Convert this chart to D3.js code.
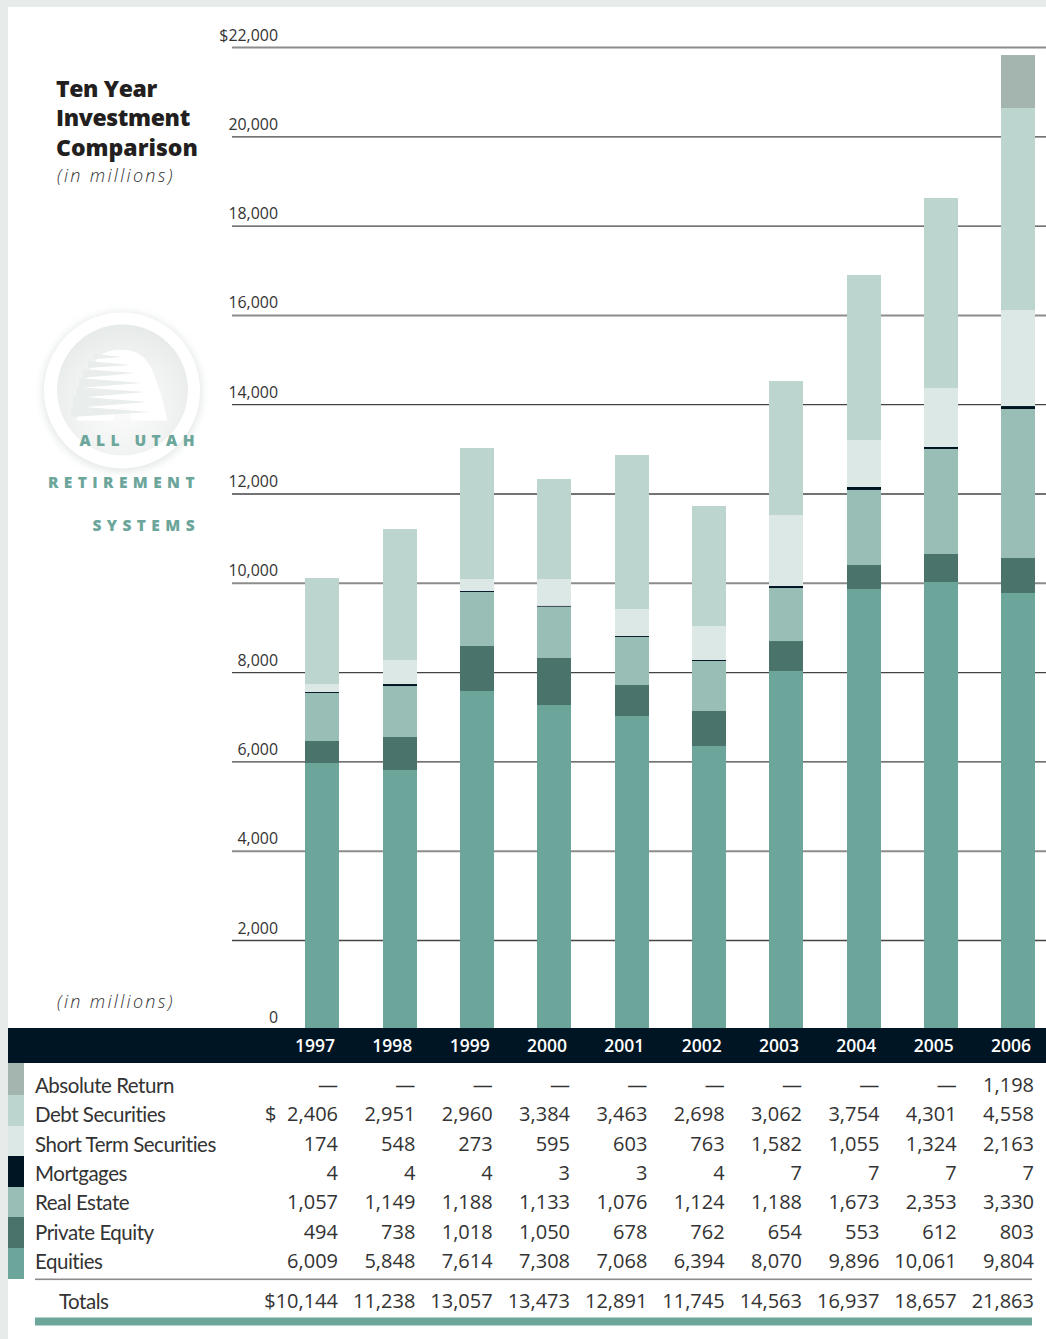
<!DOCTYPE html>
<html><head><meta charset="utf-8">
<script src="https://cdnjs.cloudflare.com/ajax/libs/d3/7.8.5/d3.min.js"></script>
<style>html,body{margin:0;padding:0;background:#fff}svg{display:block}text{font-family:"Open Sans",sans-serif;fill:#333}text.lab{font-family:Lato,sans-serif;letter-spacing:-0.48px}</style>
</head><body><svg id="c" width="1046" height="1339"></svg>
<script>
const years=[1997,1998,1999,2000,2001,2002,2003,2004,2005,2006];
const tickValues=[0,2000,4000,6000,8000,10000,12000,14000,16000,18000,20000,22000];
const seriesNames=["Absolute Return","Debt Securities","Short Term Securities","Mortgages","Real Estate","Private Equity","Equities"];
const seriesColors=["#a4b5b0","#bdd5cf","#dce8e6","#001524","#98beb6","#4a746b","#6ca69b"];
// printed table
const tblAbsolute=[null,null,null,null,null,null,null,null,null,1198];
const tblDebt=[2406,2951,2960,3384,3463,2698,3062,3754,4301,4558];
const tblShort=[174,548,273,595,603,763,1582,1055,1324,2163];
const tblMortgages=[4,4,4,3,3,4,7,7,7,7];
const tblReal=[1057,1149,1188,1133,1076,1124,1188,1673,2353,3330];
const tblPrivate=[494,738,1018,1050,678,762,654,553,612,803];
const tblEquities=[6009,5848,7614,7308,7068,6394,8070,9896,10061,9804];
const tblTotals=[10144,11238,13057,13473,12891,11745,14563,16937,18657,21863];
// heights as plotted in the bars, read against the axis
const barEquities=[5964,5807,7577,7263,7017,6345,8024,9861,10018,9771];
const barPrivate=[493,739,1008,1053,694,784,672,538,627,784];
const barReal=[1075,1142,1209,1149,1075,1120,1187,1680,2352,3337];
const barMortgages=[22,45,22,22,22,22,45,67,45,67];
const barShort=[179,538,269,598,605,761,1590,1053,1321,2150];
const barDebt=[2374,2934,2934,2240,3449,2688,3001,3695,4255,4524];
const barAbsolute=[0,0,0,0,0,0,0,0,0,1187];

const svg=d3.select("#c");
const x=d3.scaleBand().domain(years).range([305,1035]).paddingInner(1-34/77.33).paddingOuter(0);
const y=d3.scaleLinear().domain([0,22000]).range([1029.3,47]);
const barX=v=>Math.ceil(x(v));

// page edge
svg.append("rect").attr("x",0).attr("y",0).attr("width",1046).attr("height",7).attr("fill","#e7ecea");
svg.append("rect").attr("x",0).attr("y",0).attr("width",8).attr("height",1339).attr("fill","#e7ecea");

// logo
const defs=svg.append("defs");
const blur=defs.append("filter").attr("id","soft").attr("x","-30%").attr("y","-30%").attr("width","160%").attr("height","160%");
blur.append("feGaussianBlur").attr("stdDeviation",5);
const g1=defs.append("radialGradient").attr("id","inner").attr("cx","50%").attr("cy","62%").attr("r","62%");
g1.append("stop").attr("offset","0%").attr("stop-color","#fbfcfb");
g1.append("stop").attr("offset","55%").attr("stop-color","#f2f4f3");
g1.append("stop").attr("offset","100%").attr("stop-color","#e6eae9");
const logo=svg.append("g");
logo.append("circle").attr("cx",122).attr("cy",392).attr("r",79).attr("fill","#dfe5e3").attr("filter","url(#soft)");
logo.append("circle").attr("cx",122).attr("cy",390.5).attr("r",78).attr("fill","#fff");
logo.append("circle").attr("cx",122.5).attr("cy",390).attr("r",65.5).attr("fill","url(#inner)");
logo.append("path").attr("d","M77,420.5 L77,408 L80,398 L83,388 L86,378 L91,368 L97,359 L104,353 Q114,349 124,350 Q146,350 155,377 Q164,401 167,420.5 L131,420.5 L131,414 Q130,407 123,407 Q116,407 115,414 L114,420.5 Z").attr("fill","#fff");
const wedges=[[123,357,94,354,359],[131,365,88,361,368],[135,373,83,369,378],[141,383,79,378,388],[145,392,76,387,398],[147,402,73,396,408],[150,412,71,406,417]];
logo.selectAll("path.w").data(wedges).join("path").attr("class","w")
  .attr("d",d=>`M${d[2]},${d[3]} L${d[0]},${d[1]} L${d[2]},${d[4]} Z`).attr("fill","#e9edec");
[["ALL UTAH",446],["RETIREMENT",488],["SYSTEMS",531]].forEach(d=>{
  svg.append("text").attr("x",200).attr("y",d[1]).attr("text-anchor","end").attr("font-size",15.5).attr("font-weight",800)
    .attr("letter-spacing",5.4).style("fill","#6ca69b").text(d[0]);
});

// y axis and grid
const axis=d3.axisLeft(y).tickValues(tickValues).tickSize(0).tickPadding(0)
  .tickFormat(v=>v===22000?"$22,000":d3.format(",")(v));
const ga=svg.append("g").attr("class","y").call(axis);
ga.select(".domain").remove();
ga.selectAll("text").attr("x",278).attr("dy",null).attr("y",-7).style("font-size","15.9px").attr("text-anchor","end");
ga.selectAll(".tick line").filter(d=>d===0).remove();
ga.selectAll(".tick").filter(d=>d>0).each(function(d){
  const heavy=[4000,10000,16000,22000].includes(d);
  d3.select(this).select("line").attr("x1",232).attr("x2",1046)
    .attr("stroke",heavy?"#8c8c8c":"#444").attr("stroke-width",heavy?2:1.3);
});

// stacked bars
const stackKeys=["equities","private","real","mortgages","short","debt","absolute"];
const rows=years.map((yr,i)=>({year:yr,equities:barEquities[i],private:barPrivate[i],real:barReal[i],mortgages:barMortgages[i],short:barShort[i],debt:barDebt[i],absolute:barAbsolute[i]}));
const color=d3.scaleOrdinal().domain(stackKeys).range(seriesColors.slice().reverse());
const stack=d3.stack().keys(stackKeys)(rows);
svg.selectAll("g.s").data(stack).join("g").attr("class","s").attr("fill",d=>color(d.key))
  .selectAll("rect").data(d=>d).join("rect")
  .attr("x",d=>barX(d.data.year)).attr("width",x.bandwidth())
  .attr("y",d=>y(d[1])).attr("height",d=>y(d[0])-y(d[1]));

// year band
svg.append("rect").attr("x",8).attr("y",1028).attr("width",1038).attr("height",35).attr("fill","#001524");
svg.selectAll("text.yr").data(years).join("text").attr("class","yr")
  .attr("x",d=>x(d)+x.bandwidth()-4).attr("y",1051.5).attr("text-anchor","end")
  .attr("font-size",17.5).attr("font-weight",600).style("fill","#fff").text(d=>d);

// title
["Ten Year","Investment","Comparison"].forEach((t,i)=>{
  svg.append("text").attr("x",56).attr("y",[97,126,156][i]).attr("font-size",23).attr("font-weight",800)
    .attr("letter-spacing",i<2?-0.35:0).style("fill","#231f20").text(t);
});
[182,1008].forEach(b=>svg.append("text").attr("x",57).attr("y",b).attr("font-size",18).attr("font-style","italic").attr("font-weight",300).attr("letter-spacing",2.3).text("(in millions)"));

// table
const swatchEdges=[1063,1095,1126,1156,1187,1217,1248,1279];
const baselines=[1092,1121,1151,1180,1209,1239,1268];
const tableRows=[tblAbsolute,tblDebt,tblShort,tblMortgages,tblReal,tblPrivate,tblEquities];
seriesNames.forEach((n,i)=>{
  svg.append("rect").attr("x",8).attr("y",swatchEdges[i]).attr("width",16).attr("height",swatchEdges[i+1]-swatchEdges[i]).attr("fill",seriesColors[i]);
  svg.append("text").attr("class","lab").attr("x",35).attr("y",baselines[i]+0.5).attr("font-size",20.5).text(n);
  svg.selectAll(null).data(tableRows[i]).join("text")
    .attr("x",(d,j)=>x(years[j])+x.bandwidth()-1).attr("y",baselines[i]).attr("text-anchor","end").attr("font-size",20)
    .text(d=>d===null?"—":d3.format(",")(d));
});
svg.append("text").attr("x",265).attr("y",baselines[1]).attr("font-size",20).text("$");
svg.append("rect").attr("x",35).attr("y",1278.5).attr("width",997).attr("height",1.6).attr("fill","#8c8c8c");
svg.append("text").attr("class","lab").attr("x",59).attr("y",1308.5).attr("font-size",20.5).text("Totals");
svg.selectAll(null).data(tblTotals).join("text")
  .attr("x",(d,j)=>x(years[j])+x.bandwidth()-1).attr("y",1308).attr("text-anchor","end").attr("font-size",20)
  .text((d,j)=>(j===0?"$":"")+d3.format(",")(d));
svg.append("rect").attr("x",35).attr("y",1317.5).attr("width",997).attr("height",8).attr("fill","#6ca69b");
</script></body></html>
